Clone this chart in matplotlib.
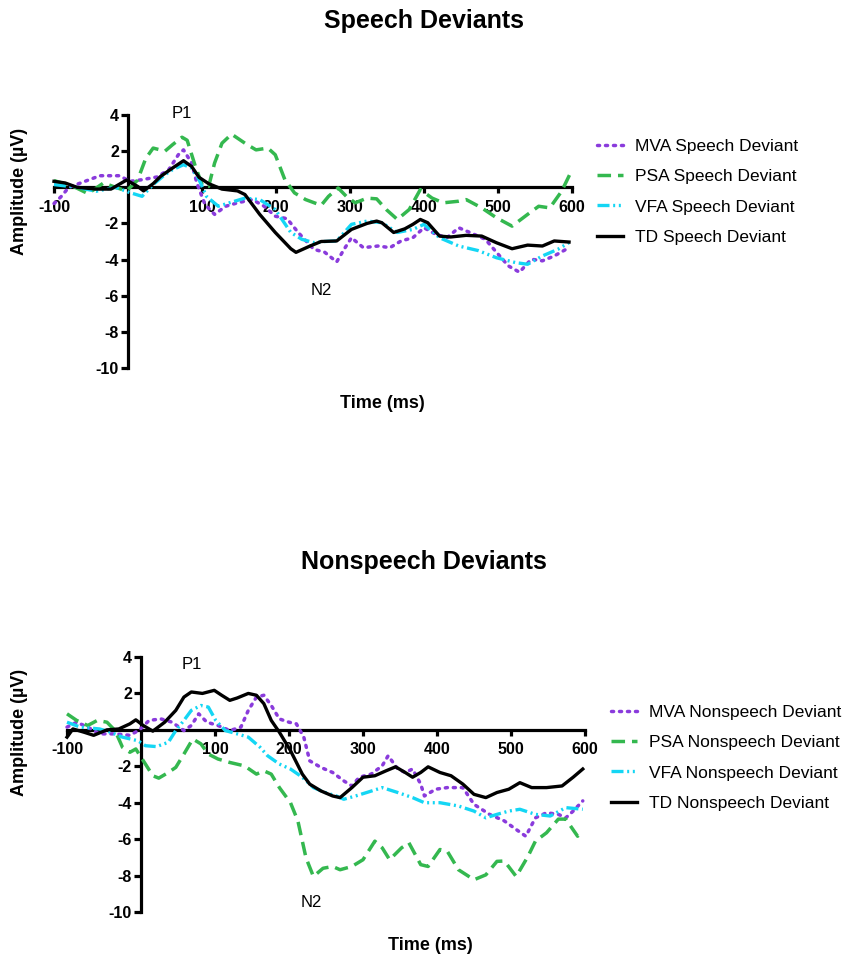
import matplotlib
matplotlib.use("Agg")
import matplotlib.pyplot as plt

plt.rcParams['font.family'] = ['Liberation Sans', 'DejaVu Sans']

# ---------------- Speech deviants (ERP waveforms) ----------------
sp_mva_t = [-100, -90, -80, -64, -38, -12, 3, 19, 39, 55, 68, 75, 86, 93, 104, 117, 132, 148, 168, 184,
            199, 215, 230, 251, 266, 282, 292, 302, 318, 338, 354, 369, 385, 400, 416, 431, 447, 462,
            483, 498, 514, 529, 545, 560, 576, 596]
sp_mva_v = [-0.9, -0.5, 0.0, 0.24, 0.64, 0.64, 0.33, 0.42, 0.57, 0.97, 1.8, 2.07, 1.34, 0.24, -0.95, -1.5,
            -1.05, -0.86, -0.68, -1.05, -1.6, -1.74, -2.5, -3.43, -3.6, -4.13, -3.43, -2.79, -3.34, -3.25,
            -3.34, -2.97, -2.79, -2.24, -2.6, -2.79, -2.24, -2.5, -2.88, -3.6, -4.35, -4.7, -3.98, -4.07,
            -3.8, -3.34]

sp_psa_t = [-100, -74, -54, -33, -17, -2, 13, 24, 34, 50, 60, 73, 80, 91, 101, 109, 117, 127, 140, 158,
            173, 189, 199, 212, 225, 240, 261, 271, 284, 295, 307, 323, 336, 349, 364, 380, 395, 411,
            426, 447, 457, 478, 498, 519, 540, 555, 570, 586, 599]
sp_psa_v = [0.37, 0.05, -0.35, 0.24, 0.0, -0.2, 0.4, 1.6, 2.17, 2.0, 2.35, 2.77, 2.6, 1.16, 0.05, 0.05,
            1.34, 2.44, 2.94, 2.44, 2.07, 2.17, 1.8, 0.42, -0.31, -0.68, -1.0, -0.5, -0.04, -0.5, -0.86,
            -0.6, -0.64, -1.23, -1.78, -1.23, -0.13, -0.6, -0.86, -0.77, -0.68, -1.14, -1.69, -2.15,
            -1.5, -1.05, -1.14, -0.22, 0.88]

sp_vfa_t = [-100, -69, -43, -17, 3, 19, 34, 50, 60, 75, 86, 96, 106, 122, 137, 158, 178, 199, 220, 235,
            251, 266, 282, 302, 323, 343, 364, 385, 400, 421, 447, 473, 498, 524, 540, 560, 581, 596]
sp_vfa_v = [0.15, 0.0, -0.22, 0.0, -0.3, -0.5, 0.15, 0.7, 0.97, 1.25, 1.06, 0.42, -0.5, -1.05, -0.86,
            -0.6, -0.68, -1.23, -2.5, -2.88, -3.06, -3.0, -2.97, -2.05, -1.87, -1.96, -2.5, -2.33, -2.05,
            -2.79, -3.25, -3.5, -3.9, -4.17, -4.26, -3.8, -3.43, -3.06]

sp_td_t = [-100, -85, -69, -43, -23, -2, 13, 21, 34, 44, 60, 75, 86, 96, 109, 127, 148, 158, 178, 199,
           220, 227, 246, 261, 282, 302, 323, 336, 343, 359, 374, 385, 395, 405, 421, 436, 457, 478,
           498, 519, 540, 560, 576, 596]
sp_td_v = [0.33, 0.24, 0.0, -0.1, -0.1, 0.4, 0.05, -0.2, 0.2, 0.6, 1.06, 1.47, 1.15, 0.55, 0.2, -0.1,
           -0.2, -0.4, -1.5, -2.5, -3.4, -3.6, -3.25, -3.0, -2.97, -2.33, -2.0, -1.87, -1.96, -2.5, -2.3,
           -2.05, -1.78, -1.96, -2.7, -2.75, -2.66, -2.7, -3.07, -3.4, -3.2, -3.25, -2.97, -3.03]

# ---------------- Nonspeech deviants (ERP waveforms) ----------------
ns_mva_t = [-100, -87, -72, -56, -35, -15, -2, 11, 27, 42, 58, 68, 78, 89, 104, 120, 135, 145, 156, 166,
            176, 187, 200, 210, 220, 228, 243, 259, 274, 285, 295, 311, 326, 334, 347, 357, 367, 378,
            383, 398, 414, 435, 450, 471, 491, 507, 520, 533, 548, 564, 574, 584, 597]
ns_mva_v = [0.15, 0.42, 0.15, -0.22, -0.22, -0.3, 0.0, 0.52, 0.6, 0.42, -0.04, 0.24, 0.88, 0.42, 0.24,
            -0.04, 0.15, 1.07, 1.8, 1.9, 1.34, 0.6, 0.42, 0.33, -0.4, -1.7, -2.06, -2.34, -2.8, -3.08,
            -2.6, -2.43, -1.97, -1.42, -2.15, -2.34, -2.15, -2.98, -3.63, -3.26, -3.17, -3.17, -4.09,
            -4.64, -5.0, -5.47, -5.84, -4.83, -4.55, -4.64, -4.83, -4.46, -3.9]

ns_psa_t = [-100, -87, -72, -59, -46, -35, -25, -15, -7, 6, 16, 24, 37, 47, 58, 70, 81, 91, 104, 120,
            140, 156, 166, 176, 187, 202, 212, 223, 233, 246, 259, 269, 285, 300, 316, 326, 336, 352,
            362, 378, 388, 404, 414, 429, 450, 466, 481, 491, 507, 523, 533, 548, 564, 574, 590, 597]
ns_psa_v = [0.88, 0.52, 0.24, 0.52, 0.42, -0.04, -0.96, -1.23, -1.05, -1.88, -2.52, -2.65, -2.34, -2.06,
            -1.33, -0.5, -0.77, -1.33, -1.6, -1.79, -1.98, -2.43, -2.25, -2.43, -3.17, -4.0, -5.0, -7.03,
            -8.05, -7.6, -7.5, -7.68, -7.5, -7.13, -6.11, -6.48, -7.13, -6.48, -6.2, -7.4, -7.5, -6.57,
            -6.67, -7.68, -8.23, -7.96, -7.22, -7.2, -8.05, -6.94, -6.11, -5.65, -4.9, -4.9, -5.84, -5.56]

ns_vfa_t = [-100, -82, -56, -41, -25, -4, 6, 21, 37, 47, 58, 68, 81, 91, 101, 114, 130, 145, 161, 171,
            187, 202, 218, 233, 249, 264, 274, 290, 305, 326, 347, 367, 383, 404, 429, 450, 466, 481,
            497, 512, 533, 553, 574, 597]
ns_vfa_v = [0.42, 0.15, 0.05, -0.13, -0.4, -0.6, -0.87, -0.92, -0.68, -0.04, 0.52, 1.07, 1.34, 1.25,
            0.52, -0.04, -0.22, -0.4, -0.96, -1.42, -1.88, -2.15, -2.6, -3.17, -3.44, -3.63, -3.81,
            -3.63, -3.44, -3.17, -3.44, -3.72, -4.0, -4.0, -4.18, -4.46, -4.83, -4.64, -4.46, -4.36,
            -4.64, -4.73, -4.27, -4.36]

ns_td_t = [-100, -92, -77, -64, -46, -30, -15, -7, 3, 16, 32, 47, 58, 68, 83, 99, 109, 120, 130, 145,
           156, 166, 176, 187, 202, 218, 228, 243, 259, 269, 285, 300, 316, 331, 344, 357, 367, 378,
           388, 404, 419, 435, 450, 466, 481, 497, 512, 528, 548, 569, 584, 597]
ns_td_v = [-0.4, 0.05, -0.13, -0.3, 0.0, 0.05, 0.33, 0.55, 0.24, -0.07, 0.42, 1.07, 1.8, 2.08, 2.0, 2.17,
           1.9, 1.62, 1.75, 2.0, 1.9, 1.44, 0.52, -0.13, -1.14, -2.43, -2.98, -3.35, -3.63, -3.72, -3.17,
           -2.6, -2.52, -2.25, -2.03, -2.34, -2.6, -2.34, -2.03, -2.34, -2.52, -2.98, -3.54, -3.72,
           -3.44, -3.26, -2.9, -3.17, -3.17, -3.08, -2.6, -2.15]

x_ticks = [-100, 100, 200, 300, 400, 500, 600]
y_ticks = [-10, -8, -6, -4, -2, 2, 4]

groups = ["MVA", "PSA", "VFA", "TD"]
colors = {"MVA": "#8a3bdc", "PSA": "#34b84f", "VFA": "#14d6f4", "TD": "#000000"}
styles = {
    "MVA": dict(linestyle=(0, (0.6, 1.7)), linewidth=2.5, dash_capstyle='round'),
    "PSA": dict(linestyle=(0, (3.9, 2.0)), linewidth=2.5),
    "VFA": dict(linestyle=(0, (3.6, 1.1, 0.6, 1.1, 0.6, 1.1)), linewidth=2.4),
    "TD": dict(linestyle='-', linewidth=2.4),
}

W, H = 847, 958
fig = plt.figure(figsize=(W / 100, H / 100), dpi=100)


def make_panel(rect, series, kind, title, title_y, amp_y, time_xy, p1_xy, n2_xy, leg_xy):
    ax = fig.add_axes(rect)
    ax.set_xlim(-100, 600)
    ax.set_ylim(-10, 4)
    for g in groups:
        t, v = series[g]
        ax.plot(t, v, color=colors[g], label=f"{g} {kind} Deviant", clip_on=False,
                solid_joinstyle='round', **styles[g])
    for side in ("top", "right"):
        ax.spines[side].set_visible(False)
    ax.spines["left"].set_position(("data", 0))
    ax.spines["bottom"].set_position(("data", 0))
    for side in ("left", "bottom"):
        ax.spines[side].set_linewidth(2.3)
        ax.spines[side].set_zorder(1)
    ax.set_xticks(x_ticks)
    ax.set_yticks(y_ticks)
    ax.set_xticklabels([str(v) for v in x_ticks])
    ax.set_yticklabels([str(v) for v in y_ticks])
    ax.tick_params(axis='x', direction='out', length=4, width=2.3, pad=5, labelsize=11.5)
    ax.tick_params(axis='y', direction='out', length=5, width=2.3, pad=1.5, labelsize=11.5)
    for lab in ax.get_xticklabels() + ax.get_yticklabels():
        lab.set_fontweight('bold')
    ax.patch.set_visible(False)

    fig.text(0.5, title_y, title, ha='center', va='center', fontsize=18, fontweight='bold')
    fig.text(20 / W, amp_y, "Amplitude (µV)", rotation=90, ha='center', va='center',
             fontsize=13, fontweight='bold')
    fig.text(time_xy[0], time_xy[1], "Time (ms)", ha='center', va='center',
             fontsize=13, fontweight='bold')
    ax.text(p1_xy[0], p1_xy[1], "P1", ha='center', va='center', fontsize=12)
    ax.text(n2_xy[0], n2_xy[1], "N2", ha='center', va='center', fontsize=12)

    ax.legend(loc='upper left', bbox_to_anchor=leg_xy, bbox_transform=fig.transFigure,
              frameon=False, fontsize=12.5, handlelength=1.5, handletextpad=0.7,
              labelspacing=0.88, borderpad=0, borderaxespad=0)
    return ax


speech = {"MVA": (sp_mva_t, sp_mva_v), "PSA": (sp_psa_t, sp_psa_v),
          "VFA": (sp_vfa_t, sp_vfa_v), "TD": (sp_td_t, sp_td_v)}
nonspeech = {"MVA": (ns_mva_t, ns_mva_v), "PSA": (ns_psa_t, ns_psa_v),
             "VFA": (ns_vfa_t, ns_vfa_v), "TD": (ns_td_t, ns_td_v)}

make_panel([54 / W, 1 - 368 / H, 518 / W, 253 / H], speech, "Speech", "Speech Deviants",
           1 - 21 / H, 1 - 191 / H, (382 / W, 1 - 404 / H), (73, 4.1), (261, -5.7),
           (597 / W, 1 - 138.5 / H))
make_panel([67 / W, 1 - 912 / H, 518 / W, 255 / H], nonspeech, "Nonspeech", "Nonspeech Deviants",
           1 - 562 / H, 1 - 732 / H, (430 / W, 1 - 945 / H), (69, 3.6), (230, -9.5),
           (611 / W, 1 - 704.5 / H))

fig.savefig("out.png", dpi=100)
